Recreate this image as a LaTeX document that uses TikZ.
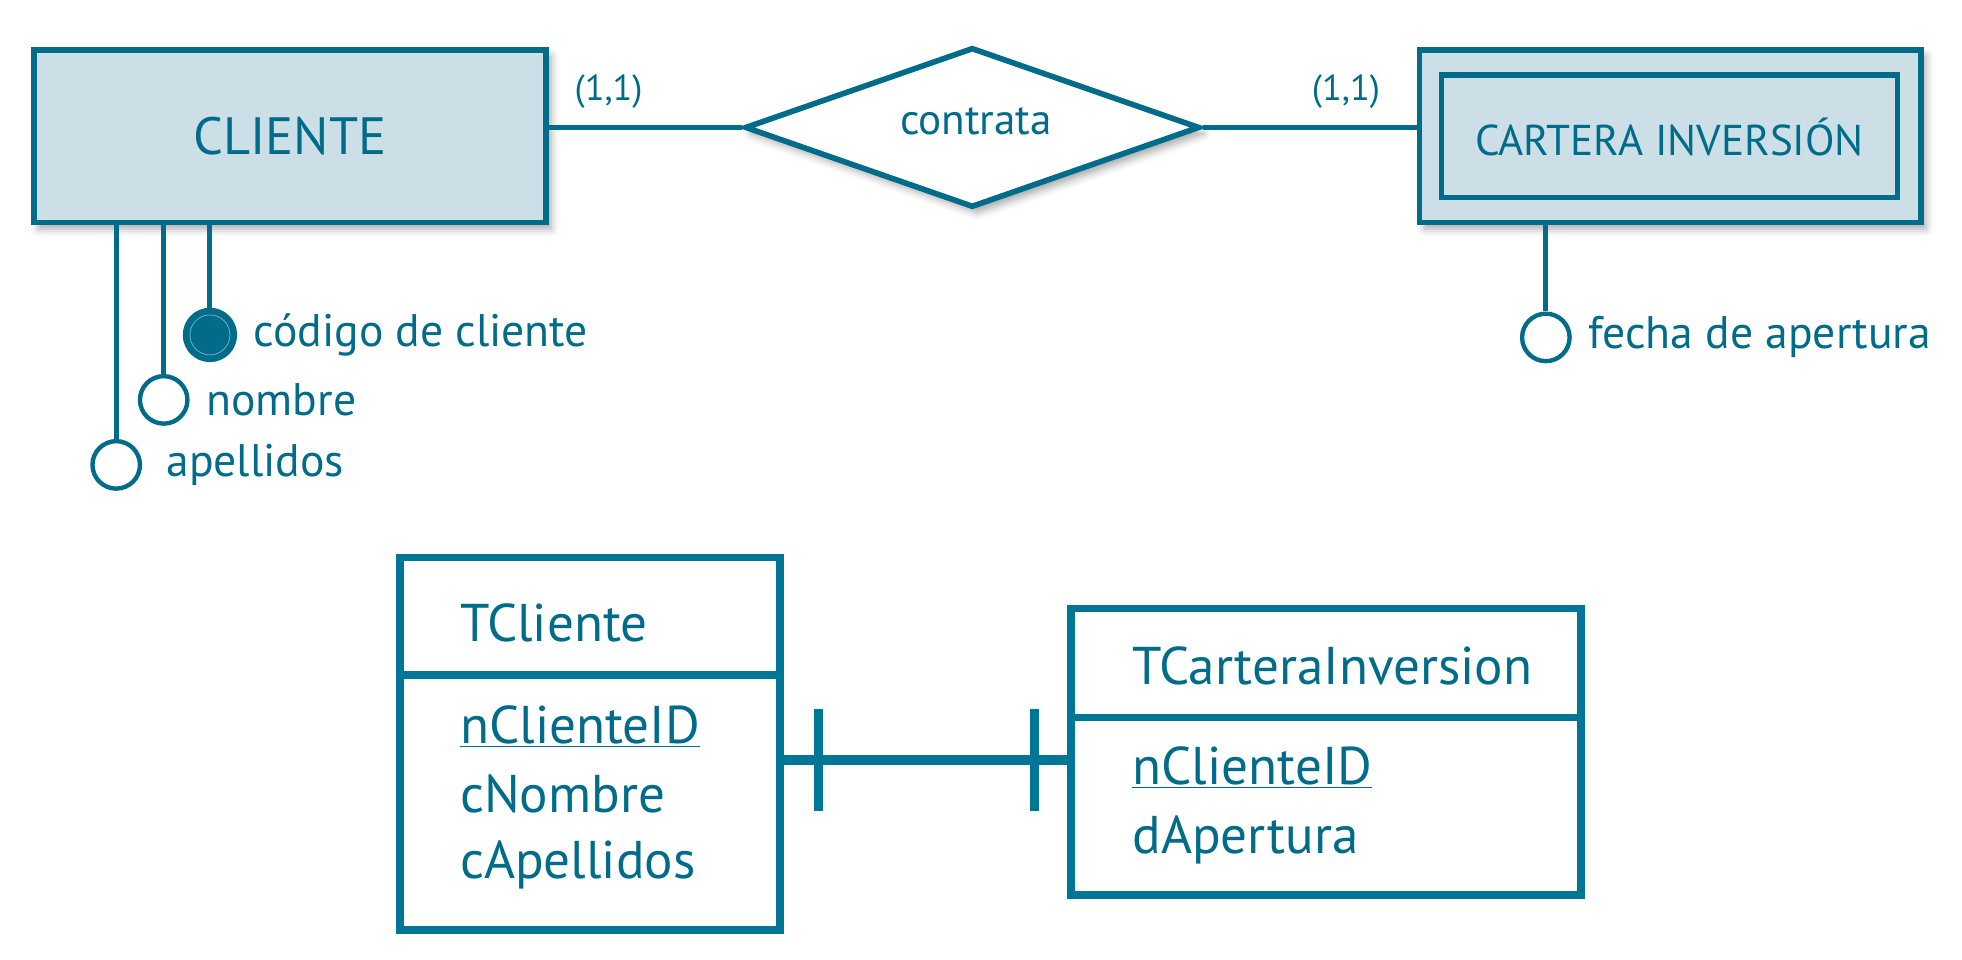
\documentclass[tikz,border=0pt]{standalone}
\usepackage{fontspec}
\setmainfont{PT Sans}
\usetikzlibrary{shapes.geometric,shadows.blur}
\definecolor{teal1}{RGB}{0,108,138}
\definecolor{teal2}{RGB}{0,118,150}
\definecolor{efill}{RGB}{205,223,230}
\newcommand{\fs}[1]{\fontsize{#1}{#1}\selectfont}
\tikzset{
  ent/.style={draw=teal1, line width=4.5pt, fill=efill, inner sep=0pt,
    blur shadow={shadow xshift=4pt, shadow yshift=-5pt, shadow blur radius=6pt, shadow opacity=35}},
  inent/.style={draw=teal1, line width=4.5pt, inner sep=0pt},
  rel/.style={diamond, draw=teal1, line width=4.5pt, fill=white, inner sep=0pt,
    blur shadow={shadow xshift=4pt, shadow yshift=-5pt, shadow blur radius=6pt, shadow opacity=35}},
  conn/.style={draw=teal1, line width=4pt},
  attr/.style={circle, draw=teal1, line width=3.5pt, fill=white, minimum size=38pt, inner sep=0pt},
  keyattr/.style={attr, fill=teal1, minimum size=40pt},
  lbl/.style={text=teal1, inner sep=0pt, font=\fs{36.5}},
  card/.style={text=teal1, inner sep=0pt, font=\fs{29}},
  tbl/.style={draw=teal2, line width=6pt, inner sep=0pt},
  tline/.style={draw=teal2, line width=6pt},
  ttxt/.style={text=teal1, inner sep=0pt, anchor=base west, font=\fs{42.5}},
  link/.style={draw=teal2, line width=8.5pt},
  tick/.style={draw=teal2, line width=7pt},
}
\begin{document}
\begin{tikzpicture}[x=1pt,y=-1pt]
\useasboundingbox (0,0) rectangle (1570,768);
% --- ER part ---
\node[ent, minimum width=410pt, minimum height=138pt] (cli) at (232,109) {};
\node[text=teal1, font=\fs{42}] (clit) at (232,109) {CLIENTE};
\node[rel, minimum width=364pt, minimum height=128pt] (rel) at (778,102) {};
\node[text=teal1, font=\fs{34.5}] (relt) at (781,97) {contrata};
\node[ent, minimum width=401pt, minimum height=138pt] (cart) at (1336.5,109) {};
\node[inent, minimum width=365pt, minimum height=98pt] (cartin) at (1336,109) {};
\node[text=teal1, font=\fs{34.5}] (cartt) at (1336,110) {CARTERA INVERSIÓN};
\draw[conn] (cli.east |- rel.west) -- (rel.west);
\draw[conn] (rel.east) -- (cart.west |- rel.east);
\node[card] (c1) at (487,73) {(1,1)};
\node[card] (c2) at (1077,73) {(1,1)};
% attributes
\node[keyattr] (a1) at (168,268) {};
\node[attr] (a2) at (131,320) {};
\node[attr] (a3) at (93,372) {};
\node[attr] (a4) at (1237,270) {};
\draw[conn] (a1) -- (a1 |- cli.south);
\draw[conn] (a2) -- (a2 |- cli.south);
\draw[conn] (a3) -- (a3 |- cli.south);
\draw[conn] (a4) -- (a4 |- cart.south);
\draw[draw=efill!60!teal1, line width=0.6pt] (a1) circle (16pt);
\node[lbl, anchor=west] (l1) at (203,268) {código de cliente};
\node[lbl, anchor=west] (l2) at (165,320) {nombre};
\node[lbl, anchor=west] (l3) at (133,372) {apellidos};
\node[lbl, anchor=west] (l4) at (1271,270) {fecha de apertura};
% --- relational part ---
\node[tbl, minimum width=304pt, minimum height=298pt] (tc) at (472,595) {};
\coordinate (d1) at (472,540);
\draw[tline] (tc.west |- d1) -- (tc.east |- d1);
\node[ttxt] (t1) at (368,513) {TCliente};
\node[ttxt] (t2) at (368,595) {\underline{nClienteID}};
\node[ttxt] (t3) at (368,650) {cNombre};
\node[ttxt] (t4) at (368,703) {cApellidos};
\node[tbl, minimum width=408pt, minimum height=229pt] (tca) at (1061,601.5) {};
\coordinate (d2) at (1061,574);
\draw[tline] (tca.west |- d2) -- (tca.east |- d2);
\node[ttxt] (u1) at (906,548) {TCarteraInversion};
\node[ttxt] (u2) at (906,628) {\underline{nClienteID}};
\node[ttxt] (u3) at (906,683) {dApertura};
\coordinate (lk) at (740,608);
\draw[link] (tc.east |- lk) -- (tca.west |- lk);
\coordinate (k1a) at (655,567); \coordinate (k1b) at (655,649);
\coordinate (k2a) at (828,567); \coordinate (k2b) at (828,649);
\draw[tick] (k1a) -- (k1b);
\draw[tick] (k2a) -- (k2b);
\end{tikzpicture}
\end{document}
